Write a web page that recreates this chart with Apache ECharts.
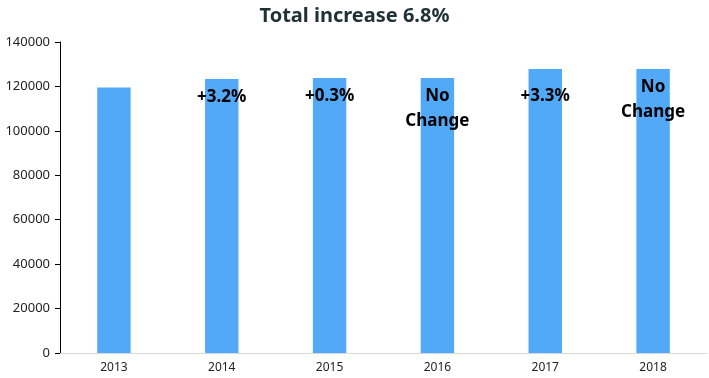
<!DOCTYPE html>
<html>
<head>
<meta charset="utf-8">
<script src="https://cdn.jsdelivr.net/npm/echarts@6/dist/echarts.min.js"></script>
<style>
  html, body { margin: 0; padding: 0; background: #fff; }
  #chart { width: 709px; height: 378px; }
</style>
</head>
<body>
<div id="chart"></div>
<script>
const years = ['2013', '2014', '2015', '2016', '2017', '2018'];
const totals = [119500, 123400, 123800, 123800, 127800, 127800];
const changeText = ['', '+3.2%', '+0.3%', 'No\nChange', '+3.3%', 'No\nChange'];
const yTicks = { min: 0, max: 140000, interval: 20000 };

let myChart = echarts.init(document.getElementById('chart'));

// the +3.3% label sits a bit lower in the original
let barData = totals.map(function (v, i) {
  return i === 4 ? { value: v, label: { offset: [0, 9] } } : v;
});

let options = {
  animation: false,
  title: {
    text: 'Total increase 6.8%',
    left: 'center',
    top: 1,
    textStyle: {
      fontFamily: 'Noto Sans',
      fontWeight: 'bold',
      fontSize: 20,
      color: '#1f3134'
    }
  },
  grid: {
    left: 60,
    right: 2,
    top: 42,
    bottom: 25
  },
  xAxis: {
    type: 'category',
    data: years,
    axisTick: { show: false },
    axisLine: { lineStyle: { color: '#d9d9d9', width: 1 } },
    axisLabel: {
      color: '#222',
      fontFamily: 'Noto Sans',
      fontSize: 12,
      margin: 9
    }
  },
  yAxis: {
    type: 'value',
    min: yTicks.min,
    max: yTicks.max,
    interval: yTicks.interval,
    splitLine: { show: false },
    axisLine: { show: true, lineStyle: { color: '#000', width: 1 } },
    axisTick: { show: true, length: 5, lineStyle: { color: '#000' } },
    axisLabel: {
      color: '#222',
      fontFamily: 'Noto Sans',
      fontSize: 13,
      margin: 10,
      formatter: function (v) { return String(v); }
    }
  },
  series: [{
    type: 'bar',
    data: barData,
    barWidth: '31%',
    itemStyle: { color: '#51a9f8' },
    label: {
      show: true,
      position: 'insideTop',
      distance: 6,
      formatter: function (p) { return changeText[p.dataIndex]; },
      color: '#000',
      fontFamily: 'Noto Sans',
      fontWeight: 'bold',
      fontSize: 17,
      lineHeight: 25
    }
  }]
};

myChart.setOption(options);
</script>
</body>
</html>
